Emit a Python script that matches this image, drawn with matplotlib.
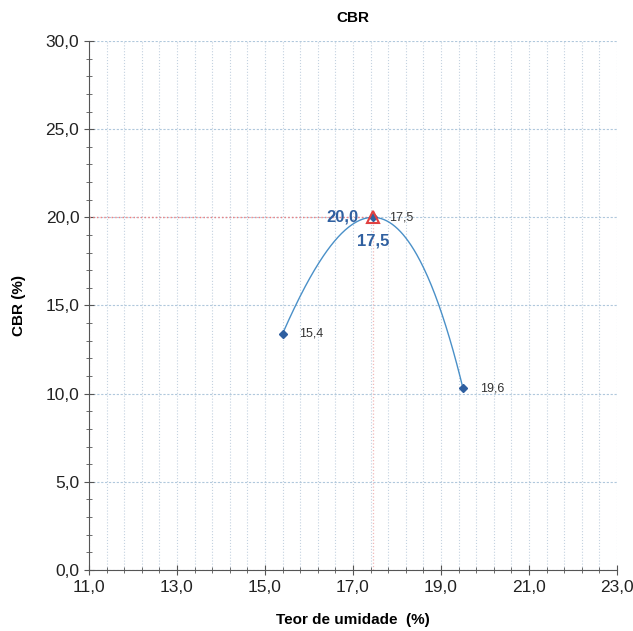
import matplotlib.pyplot as plt
import numpy as np
from matplotlib.ticker import FixedLocator, MultipleLocator, FuncFormatter

plt.rcParams['font.family'] = ['Liberation Sans', 'DejaVu Sans']

# dados do ensaio
umidade = [15.4, 17.45, 19.5]
cbr = [13.4, 20.0, 10.3]
rotulos = ['15,4', '17,5', '19,6']
umid_otima = 17.45
cbr_max = 20.0

# curva suave: cubica pelos 3 pontos com derivada nula no pico
A = [[x**3, x**2, x, 1] for x in umidade]
A.append([3 * umid_otima**2, 2 * umid_otima, 1, 0])
b = cbr + [0.0]
coef = np.linalg.solve(np.array(A), np.array(b))
xs = np.linspace(umidade[0], umidade[-1], 200)
ys = np.polyval(coef, xs)

fig = plt.figure(figsize=(6.33, 6.31), dpi=100)
ax = fig.add_axes([0.1406, 0.0967, 0.8341, 0.8383])

ax.set_xlim(11, 23)
ax.set_ylim(0, 30)

ax.xaxis.set_major_locator(FixedLocator(np.arange(11, 23.01, 2)))
ax.xaxis.set_minor_locator(FixedLocator(np.arange(11, 23.01, 0.4)))
ax.yaxis.set_major_locator(MultipleLocator(5))
ax.yaxis.set_minor_locator(MultipleLocator(1))
virg = FuncFormatter(lambda v, p: ('%.1f' % v).replace('.', ','))
ax.xaxis.set_major_formatter(virg)
ax.yaxis.set_major_formatter(virg)

ax.grid(which='minor', axis='x', color='#c4d2e0', linestyle=':', linewidth=0.8)
ax.grid(which='major', axis='x', color='#c4d2e0', linestyle=':', linewidth=0.8)
ax.grid(which='major', axis='y', color='#b0c8dc', linestyle=(0, (2, 1.5)), linewidth=0.8)

for s in ['top', 'right']:
    ax.spines[s].set_visible(False)
for s in ['left', 'bottom']:
    ax.spines[s].set_color('#555555')
    ax.spines[s].set_linewidth(0.8)
ax.tick_params(which='both', direction='inout', color='#555555', labelsize=12.5,
               labelcolor='#222222')
ax.tick_params(which='major', length=7)
ax.tick_params(which='minor', length=5)

# linhas de referencia
ax.plot([11, umid_otima], [cbr_max, cbr_max], color='#f08080', linestyle=':', linewidth=1.0)
ax.plot([umid_otima, umid_otima], [0, cbr_max], color='#f0b8b8', linestyle=':', linewidth=0.9)

ax.plot(xs, ys, color='#4a90c8', linewidth=1.0)
ax.plot(umidade, cbr, linestyle='none', marker='D', markersize=4.5, color='#2f5fa0')
ax.plot([umid_otima], [cbr_max], linestyle='none', marker='^', markersize=8,
        markerfacecolor='none', markeredgecolor='#e04040', markeredgewidth=1.5)

for x, y, t in zip(umidade, cbr, rotulos):
    ax.annotate(t, (x, y), xytext=(12, 0), textcoords='offset points',
                va='center', ha='left', fontsize=9, color='#333333')

ax.annotate('20,0', (umid_otima, cbr_max), xytext=(-10, 0), textcoords='offset points',
            va='center', ha='right', fontsize=12, fontweight='bold', color='#3060a0')
ax.annotate('17,5', (umid_otima, cbr_max), xytext=(0, -17), textcoords='offset points',
            va='center', ha='center', fontsize=12, fontweight='bold', color='#3060a0')

ax.set_title('CBR', fontsize=11, fontweight='bold', pad=14)
ax.set_xlabel('Teor de umidade  (%)', fontsize=11, fontweight='bold', labelpad=13)
ax.set_ylabel('CBR (%)', fontsize=11, fontweight='bold', labelpad=14)

fig.savefig('out.png', dpi=100)
